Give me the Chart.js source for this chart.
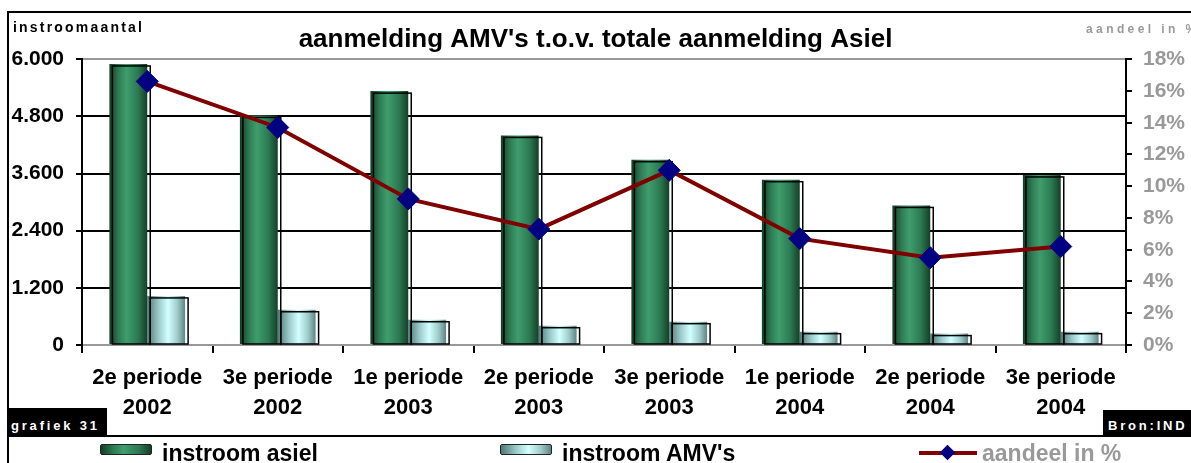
<!DOCTYPE html>
<html>
<head>
<meta charset="utf-8">
<script src="https://cdn.jsdelivr.net/npm/chart.js@4.4.1/dist/chart.umd.min.js"></script>
<style>
  body { margin: 0; background: #fff; }
  #wrap { position: relative; width: 1191px; height: 463px; overflow: hidden; font-family: 'Liberation Sans', Arial, sans-serif; font-weight: bold; }
  #wrap canvas { position: absolute; left: 0; top: 0; }
  .lijn { position: absolute; background: #000; }
  .txt { position: absolute; white-space: nowrap; }
  .zwart { position: absolute; background: #000; color: #fff; font-size: 13px; letter-spacing: 2.8px; padding-left: 3px; }
  .swatch { position: absolute; width: 50px; height: 9px; border: 1px solid #222; border-radius: 2px; }
</style>
</head>
<body>
<div id="wrap">
  <canvas id="grafiek" width="1191" height="463"></canvas>

  <div class="lijn" style="left:8px;top:11px;width:1183px;height:2px"></div>
  <div class="lijn" style="left:7px;top:11px;width:2px;height:452px"></div>
  <div class="lijn" style="left:8px;top:435px;width:1183px;height:2px"></div>

  <div class="txt" style="left:13px;top:19px;font-size:14px;letter-spacing:2.2px">instroomaantal</div>
  <div class="txt" style="left:1086px;top:22px;font-size:12px;letter-spacing:3.4px;color:#999">aandeel in %</div>

  <div class="zwart" style="left:8px;top:408px;width:96px;height:28px;line-height:36px">grafiek 31</div>
  <div class="zwart" style="left:1103px;top:410px;width:88px;height:26px;line-height:32px;padding-left:5px">Bron:IND</div>

  <div class="swatch" style="left:100px;top:444px;background:linear-gradient(to right,#123d26,#2f7d55 25%,#3f9d6d 45%,#2c7a52 75%,#143f28)"></div>
  <div class="txt" style="left:162px;top:440px;font-size:23px">instroom asiel</div>
  <div class="swatch" style="left:500px;top:444px;background:linear-gradient(to right,#4f7777,#9cc9c9 30%,#d2ffff 55%,#9fcaca 80%,#5c8585)"></div>
  <div class="txt" style="left:562px;top:440px;font-size:23px">instroom AMV's</div>
  <div class="lijn" style="left:919px;top:451px;width:58px;height:4px;background:#800000"></div>
  <div class="lijn" style="left:942px;top:447px;width:11px;height:11px;background:#000080;transform:rotate(45deg)"></div>
  <div class="txt" style="left:982px;top:440px;font-size:23px;color:#999">aandeel in %</div>
</div>

<script>
// waarden
const perioden = ['2e periode', '3e periode', '1e periode', '2e periode', '3e periode', '1e periode', '2e periode', '3e periode'];
const jaren = ['2002', '2002', '2003', '2003', '2003', '2004', '2004', '2004'];
const instroomAsiel = [5900, 4820, 5330, 4400, 3890, 3470, 2930, 3570];
const instroomAMV = [1030, 740, 530, 405, 490, 280, 240, 280];
const aandeel = [16.6, 13.7, 9.2, 7.3, 11.0, 6.7, 5.5, 6.2];
const aantalTicks = [0, 1200, 2400, 3600, 4800, 6000];
const procentTicks = [0, 2, 4, 6, 8, 10, 12, 14, 16, 18];

const font = 'Liberation Sans, Arial, sans-serif';

const groenStops = [[0, '#123d26'], [0.25, '#2f7d55'], [0.45, '#3f9d6d'], [0.75, '#2c7a52'], [1, '#143f28']];
const cyaanStops = [[0, '#4f7777'], [0.3, '#9cc9c9'], [0.55, '#d2ffff'], [0.8, '#9fcaca'], [1, '#5c8585']];

function puntjes(v) {
	return String(v).replace(/\B(?=(\d{3})+(?!\d))/g, '.');
}

// cilinder-achtige kleurverloop + verschoven omlijning
const cilinderPlugin = {
	id: 'cilinder',
	beforeDatasetDraw(chart, args) {
		const stops = chart.data.datasets[args.index].stops;
		if (!stops) return;
		const ctx = chart.ctx;
		args.meta.data.forEach(function (bar) {
			const l = bar.x - bar.width / 2;
			const g = ctx.createLinearGradient(l, 0, l + bar.width, 0);
			stops.forEach(function (s) { g.addColorStop(s[0], s[1]); });
			bar.options.backgroundColor = g;
		});
	},
	afterDatasetDraw(chart, args) {
		if (!chart.data.datasets[args.index].stops) return;
		const ctx = chart.ctx;
		ctx.save();
		ctx.strokeStyle = '#000';
		ctx.lineWidth = 1.5;
		args.meta.data.forEach(function (bar) {
			const l = bar.x - bar.width / 2;
			ctx.strokeRect(l + 3, bar.y + 2, bar.width, bar.base - bar.y - 2);
		});
		ctx.restore();
	}
};

const ctx = document.getElementById('grafiek').getContext('2d');

new Chart(ctx, {
	type: 'bar',
	data: {
		labels: perioden.map(function (p, i) { return [p, jaren[i]]; }),
		datasets: [
			{
				type: 'line',
				label: 'aandeel in %',
				data: aandeel,
				yAxisID: 'y1',
				order: 0,
				borderColor: '#800000',
				borderWidth: 4,
				tension: 0,
				pointStyle: 'rectRot',
				pointRadius: 11,
				pointHoverRadius: 11,
				pointBackgroundColor: '#000080',
				pointBorderColor: '#000080',
				pointBorderWidth: 1
			},
			{
				label: 'instroom asiel',
				data: instroomAsiel,
				yAxisID: 'y',
				order: 1,
				stops: groenStops,
				backgroundColor: function () { return '#2f7d55'; },
				borderWidth: 0,
				categoryPercentage: 0.58,
				barPercentage: 1.0
			},
			{
				label: "instroom AMV's",
				data: instroomAMV,
				yAxisID: 'y',
				order: 1,
				stops: cyaanStops,
				backgroundColor: function () { return '#a8e0e0'; },
				borderWidth: 0,
				categoryPercentage: 0.58,
				barPercentage: 1.0
			}
		]
	},
	options: {
		responsive: false,
		devicePixelRatio: 1,
		animation: false,
		layout: { padding: { left: 0, right: 0, top: 0, bottom: 0 } },
		plugins: {
			legend: { display: false },
			tooltip: { enabled: false },
			title: {
				display: true,
				text: "aanmelding AMV's t.o.v. totale aanmelding Asiel",
				color: '#000',
				font: { family: font, size: 26, weight: 'bold' },
				padding: { top: 24, bottom: 4 }
			}
		},
		scales: {
			x: {
				grid: { drawOnChartArea: false, tickLength: 8, tickColor: '#000', lineWidth: 2, offset: true },
				border: { color: '#999', width: 2 },
				ticks: {
					color: '#000',
					maxRotation: 0,
					autoSkip: false,
					padding: 10,
					font: { family: font, size: 22, weight: 'bold', lineHeight: 1.36 }
				},
				afterFit: function (s) { s.height = 118; }
			},
			y: {
				position: 'left',
				min: 0,
				max: 6000,
				afterBuildTicks: function (s) { s.ticks = aantalTicks.map(function (v) { return { value: v }; }); },
				grid: {
					lineWidth: 2,
					tickLength: 6,
					tickColor: '#000',
					color: function (c) { return (c.tick && (c.tick.value === 6000 || c.tick.value === 0)) ? '#999' : '#000'; }
				},
				border: { color: '#000', width: 2 },
				ticks: {
					color: '#000',
					padding: 12,
					font: { family: font, size: 21, weight: 'bold' },
					callback: function (v) { return puntjes(v); }
				},
				afterFit: function (s) { s.width = 82; }
			},
			y1: {
				position: 'right',
				min: 0,
				max: 18,
				afterBuildTicks: function (s) { s.ticks = procentTicks.map(function (v) { return { value: v }; }); },
				grid: { drawOnChartArea: false, tickLength: 6, tickColor: '#000', lineWidth: 2 },
				border: { color: '#000', width: 2 },
				ticks: {
					color: '#999',
					padding: 11,
					font: { family: font, size: 21, weight: 'bold' },
					callback: function (v) { return v + '%'; }
				},
				afterFit: function (s) { s.width = 65; }
			}
		}
	},
	plugins: [cilinderPlugin]
});
</script>
</body>
</html>
